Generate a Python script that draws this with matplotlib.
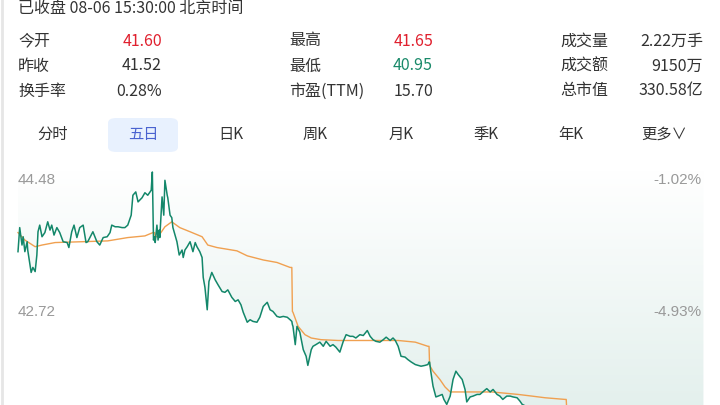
import matplotlib
matplotlib.use('Agg')
import matplotlib.pyplot as plt
import numpy as np
from matplotlib.colors import LinearSegmentedColormap
from matplotlib.patches import FancyBboxPatch

plt.rcParams['font.family'] = ['Noto Sans CJK SC', 'DejaVu Sans']

# ---------------- data (five trading days, minute index within each day 0..239) ----------------
d0_t = [0, 3, 7, 9, 12, 16, 17, 21, 23, 26, 30, 33, 35, 38, 42, 47, 52, 56, 59, 63, 68, 73, 79, 86, 89,
        94, 98, 103, 108, 114, 119, 122, 128, 131, 138, 143, 149, 156, 161, 164, 170, 175, 182, 187, 192,
        198, 201, 206, 210, 217, 222, 227, 233, 235, 237, 239]
d0_p = [43.52, 43.81, 43.60, 43.70, 43.52, 43.64, 43.54, 43.36, 43.27, 43.33, 43.28, 43.48, 43.76, 43.84,
        43.70, 43.75, 43.88, 43.78, 43.84, 43.72, 43.81, 43.75, 43.64, 43.63, 43.57, 43.76, 43.84, 43.69,
        43.81, 43.84, 43.63, 43.64, 43.72, 43.76, 43.64, 43.60, 43.69, 43.70, 43.75, 43.84, 43.82, 43.82,
        43.81, 43.81, 43.84, 43.96, 44.20, 44.24, 44.12, 44.17, 44.23, 44.20, 44.26, 44.48, 43.66, 43.70]

d1_t = [0, 3, 5, 7, 8, 12, 15, 17, 21, 22, 26, 29, 31, 38, 42, 47, 49, 52, 56, 61, 66, 70, 73, 78, 82,
        84, 87, 91, 94, 99, 105, 110, 117, 122, 127, 134, 140, 145, 150, 154, 161, 166, 171, 178, 183,
        189, 196, 201, 206, 213, 218, 224, 231, 236, 239]
d1_p = [43.63, 43.84, 43.66, 43.78, 43.69, 44.18, 43.96, 44.38, 44.20, 44.17, 43.96, 43.93, 43.81, 43.64,
        43.48, 43.54, 43.45, 43.54, 43.58, 43.64, 43.52, 43.63, 43.58, 43.52, 43.45, 43.21, 43.09, 42.82,
        43.16, 43.27, 43.18, 43.12, 43.04, 43.03, 43.06, 42.97, 42.92, 42.94, 42.88, 42.79, 42.67, 42.70,
        42.68, 42.67, 42.73, 42.86, 42.91, 42.82, 42.80, 42.74, 42.73, 42.74, 42.73, 42.70, 42.68]

d2_t = [0, 1, 5, 8, 13, 19, 24, 27, 33, 36, 41, 48, 54, 59, 66, 71, 76, 83, 89, 94, 101, 106, 111, 118,
        124, 131, 136, 141, 146, 153, 159, 164, 171, 176, 180, 185, 190, 197, 202, 208, 215, 220, 225,
        232, 237, 239]
d2_p = [42.64, 42.62, 42.40, 42.62, 42.55, 42.34, 42.26, 42.15, 42.34, 42.38, 42.40, 42.43, 42.38, 42.44,
        42.38, 42.40, 42.37, 42.31, 42.44, 42.52, 42.50, 42.50, 42.48, 42.52, 42.51, 42.57, 42.50, 42.46,
        42.44, 42.43, 42.46, 42.49, 42.45, 42.48, 42.45, 42.38, 42.26, 42.25, 42.22, 42.19, 42.16, 42.15,
        42.14, 42.15, 42.16, 42.19]

d3_t = [0, 2, 6, 11, 15, 22, 25, 30, 36, 41, 46, 50, 57, 62, 65, 71, 76, 83, 88, 93, 100, 106, 111, 118,
        123, 128, 135, 141, 146, 153, 158, 162, 180, 200, 220, 239]
d3_p = [42.19, 42.08, 41.90, 41.77, 41.78, 41.80, 41.74, 41.68, 41.78, 41.98, 42.08, 42.04, 41.98, 41.86,
        41.71, 41.77, 41.78, 41.80, 41.80, 41.83, 41.87, 41.83, 41.86, 41.80, 41.78, 41.74, 41.78, 41.78,
        41.77, 41.76, 41.72, 41.68, 41.62, 41.58, 41.55, 41.52]

d4_t = [0, 10, 30, 60, 100, 140, 160, 200, 239]
d4_p = [41.60, 41.65, 41.45, 41.30, 41.10, 40.98, 40.95, 41.05, 41.10]

# average-price line per day
a0_t = [0, 12, 30, 42, 65, 112, 157, 192, 222, 236, 239]
a0_p = [43.75, 43.66, 43.58, 43.60, 43.63, 43.64, 43.65, 43.69, 43.71, 43.75, 43.75]
a1_t = [0, 5, 17, 29, 43, 61, 82, 92, 108, 143, 161, 189, 213, 236, 239]
a1_p = [43.70, 43.70, 43.82, 43.88, 43.81, 43.76, 43.70, 43.60, 43.57, 43.53, 43.47, 43.42, 43.39, 43.33, 43.33]
a2_t = [0, 1, 10, 22, 33, 50, 80, 137, 185, 215, 237, 239]
a2_p = [42.80, 42.79, 42.62, 42.52, 42.48, 42.46, 42.45, 42.45, 42.45, 42.43, 42.38, 42.38]
a3_t = [0, 6, 18, 27, 36, 50, 79, 109, 155, 179, 202, 237, 239]
a3_p = [42.15, 42.08, 41.98, 41.89, 41.83, 41.83, 41.83, 41.83, 41.80, 41.78, 41.76, 41.74, 41.74]
a4_t = [0, 60, 120, 180, 239]
a4_p = [41.60, 41.45, 41.30, 41.22, 41.18]

y_labels = ["44.48", "42.72"]
pct_labels = ["-1.02%", "-4.93%"]

header_title = "已收盘 08-06 15:30:00 北京时间"
stat_names = [["今开", "昨收", "换手率"], ["最高", "最低", "市盈(TTM)"], ["成交量", "成交额", "总市值"]]
stat_values = [["41.60", "41.52", "0.28%"], ["41.65", "40.95", "15.70"], ["2.22万手", "9150万", "330.58亿"]]
stat_colors = [["#e0202e", "#333333", "#333333"], ["#e0202e", "#1a8a6a", "#333333"],
               ["#333333", "#333333", "#333333"]]
tabs = ["分时", "五日", "日K", "周K", "月K", "季K", "年K", "更多∨"]

# ---------------- figure ----------------
W, H = 720, 405
fig = plt.figure(figsize=(7.2, 4.05), dpi=100)
fig.patch.set_facecolor('white')


def fx(px):
    return px / W


def fy(py):
    return 1 - py / H


# left border line
fig.add_artist(plt.Line2D([fx(1.5), fx(1.5)], [0, 1], color='#e6e6e6', lw=2))

fig.text(fx(18), fy(8), header_title, fontsize=11.5, color='#333333', va='center', ha='left')

name_x = [18, 289, 560]
val_x = [162, 433, 703]
row_y = [41, 66, 91]
for c in range(3):
    for r in range(3):
        fig.text(fx(name_x[c]), fy(row_y[r]), stat_names[c][r], fontsize=11.5, color='#333333',
                 va='center', ha='left')
        fig.text(fx(val_x[c]), fy(row_y[r]), stat_values[c][r], fontsize=11.5, color=stat_colors[c][r],
                 va='center', ha='right')

# tabs
tab_cx = [53, 143, 231, 315, 401, 486, 571, 664]
box = FancyBboxPatch((fx(108), fy(152)), fx(70), 34 / H,
                     boxstyle="round,pad=0,rounding_size=0.012", transform=fig.transFigure,
                     facecolor='#e8f1fe', edgecolor='none')
fig.add_artist(box)
for i, t in enumerate(tabs):
    fig.text(fx(tab_cx[i]), fy(134), t, fontsize=11, color=('#4a63d0' if i == 1 else '#333333'),
             va='center', ha='center')

# ---------------- chart axes ----------------
top_px, bot_px = 170, 470
ppu = 83.0
ymax = 44.48 + (172 - top_px) / ppu
ymin = 44.48 - (bot_px - 172) / ppu
ax = fig.add_axes([fx(18), fy(bot_px), fx(704) - fx(18), (bot_px - top_px) / H])
ax.set_xlim(0, 1200)
ax.set_ylim(ymin, ymax)
ax.axis('off')

days_t = [d0_t, d1_t, d2_t, d3_t, d4_t]
days_p = [d0_p, d1_p, d2_p, d3_p, d4_p]
avg_t = [a0_t, a1_t, a2_t, a3_t, a4_t]
avg_p = [a0_p, a1_p, a2_p, a3_p, a4_p]

gx = np.concatenate([np.array(t) + 240 * i for i, t in enumerate(days_t)])
gy = np.concatenate([np.array(p) for p in days_p])
axx = np.concatenate([np.array(t) + 240 * i for i, t in enumerate(avg_t)])
ayy = np.concatenate([np.array(p) for p in avg_p])

# gradient fill above the price line
poly = ax.fill_between(gx, gy, ymax, color='none', lw=0)
cmap = LinearSegmentedColormap.from_list('g', ['#ffffff', '#dcece8'])
grad = np.linspace(1, 0, 256).reshape(-1, 1)
img = ax.imshow(grad, extent=[0, 1200, ymin, ymax], aspect='auto', cmap=cmap, origin='lower',
                zorder=1, vmin=0, vmax=1)
img.set_clip_path(poly.get_paths()[0], transform=ax.transData)

ax.plot(axx, ayy, color='#f0a050', lw=1.0, zorder=3, clip_on=False)
ax.plot(gx, gy, color='#13876a', lw=1.1, zorder=4, clip_on=False)

# axis labels
label_py = [180, 312]
for i in range(2):
    fig.text(fx(18), fy(label_py[i]), y_labels[i], fontsize=11, color='#999999', va='center', ha='left',
             family=['Liberation Sans', 'DejaVu Sans'])
    fig.text(fx(702), fy(label_py[i]), pct_labels[i], fontsize=11, color='#999999', va='center',
             ha='right', family=['Liberation Sans', 'DejaVu Sans'])

fig.savefig('out.png', dpi=100)
